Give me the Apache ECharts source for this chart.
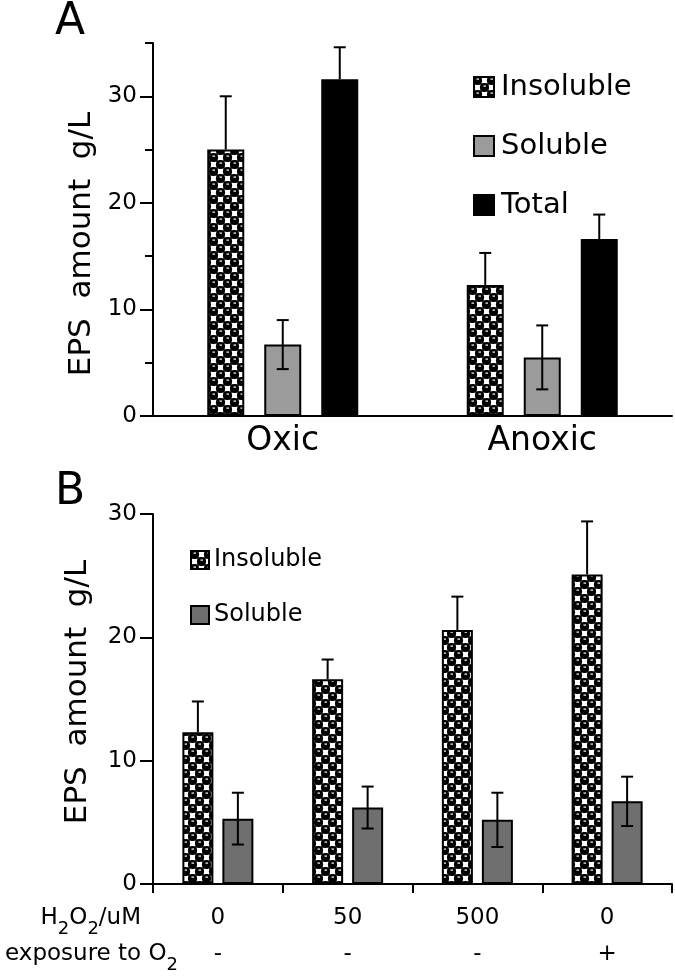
<!DOCTYPE html>
<html>
<head>
<meta charset="utf-8">
<script src="https://cdn.jsdelivr.net/npm/echarts@6/dist/echarts.min.js"></script>
<style>
html,body{margin:0;padding:0;background:#fff;}
#chart{width:675px;height:978px;}
</style>
</head>
<body>
<div id="chart"></div>
<script>
// ---------- data ----------
const catsA = ['Oxic', 'Anoxic'];
const insolA = [25.0, 12.3];
const insolAErr = [5.0, 3.0];
const solA = [6.7, 5.5];
const solAErr = [2.3, 3.0];
const totalA = [31.6, 16.6];
const totalAErr = [3.0, 2.3];
const yTicksA = [0, 10, 20, 30];
const yMinorA = [5, 15, 25, 35];

const h2o2Labels = ['0', '50', '500', '0'];
const o2Labels = ['-', '-', '-', '+'];
const insolB = [12.3, 16.6, 20.6, 25.1];
const insolBErr = [2.5, 1.6, 2.7, 4.3];
const solB = [5.3, 6.2, 5.2, 6.7];
const solBErr = [2.1, 1.7, 2.2, 2.0];
const yTicksB = [0, 10, 20, 30];

// ---------- styles ----------
const FONT = 'DejaVu Sans';
function makePattern() {
  const c = document.createElement('canvas');
  c.width = 14; c.height = 14;
  const g = c.getContext('2d');
  g.fillStyle = '#000'; g.fillRect(0, 0, 14, 14);
  g.fillStyle = '#fff';
  g.fillRect(7.5, 0.5, 6, 6); g.fillRect(0.5, 7.5, 6, 6);
  g.fillStyle = '#000';
  [[3.5, 3.5], [10.5, 10.5], [3.5 + 14, 3.5], [3.5, 3.5 + 14], [10.5 - 14, 10.5], [10.5, 10.5 - 14]].forEach(p => {
    g.beginPath(); g.arc(p[0], p[1], 4.6, 0, Math.PI * 2); g.fill();
  });
  g.fillStyle = '#fff';
  g.fillRect(2.5, 1.5, 2.5, 1.2); g.fillRect(9.5, 8.5, 2.5, 1.2);
  return c;
}
const pattern = { image: makePattern(), repeat: 'repeat' };

const bwA = 37, gapA = 20, bwB = 31, gapB = 9;

function errSeries(xi, yi, means, errs, idx, n, bw, gap, lower) {
  return {
    type: 'custom', xAxisIndex: xi, yAxisIndex: yi, z: 10, silent: true,
    data: means.map((m, i) => [i, m, errs[i]]),
    renderItem: function (params, api) {
      const c = api.value(0), m = api.value(1), e = api.value(2);
      const off = (idx - (n - 1) / 2) * (bw + gap);
      const p = api.coord([c, m]);
      const t = api.coord([c, m + e]);
      const b = api.coord([c, m - e]);
      const x = p[0] + off, half = 6;
      const st = { stroke: '#000', lineWidth: 2 };
      const ch = [
        { type: 'line', shape: { x1: x, y1: t[1], x2: x, y2: lower ? b[1] : p[1] }, style: st },
        { type: 'line', shape: { x1: x - half, y1: t[1], x2: x + half, y2: t[1] }, style: st }
      ];
      if (lower) ch.push({ type: 'line', shape: { x1: x - half, y1: b[1], x2: x + half, y2: b[1] }, style: st });
      return { type: 'group', children: ch };
    }
  };
}

const axisLineStyle = { color: '#000', width: 2 };

const option = {
  backgroundColor: '#fff',
  animation: false,
  textStyle: { fontFamily: FONT, color: '#000' },
  grid: [
    { left: 153, top: 43, width: 519, height: 373 },
    { left: 153, top: 514, width: 519, height: 370 }
  ],
  legend: [
    {
      data: ['Insoluble', 'Soluble', 'Total'],
      orient: 'vertical', left: 468, top: 67, icon: 'rect',
      itemWidth: 20, itemHeight: 20, itemGap: 29,
      textStyle: { fontFamily: FONT, fontSize: 29, lineHeight: 30, color: '#000', padding: [0, 0, 0, 2] },
      selectedMode: false
    },
    {
      data: ['Insoluble B', 'Soluble B'],
      formatter: n => n.replace(' B', ''),
      orient: 'vertical', left: 185, top: 543, icon: 'rect',
      itemWidth: 18, itemHeight: 18, itemGap: 31,
      textStyle: { fontFamily: FONT, fontSize: 24, lineHeight: 24, color: '#000' },
      selectedMode: false
    }
  ],
  xAxis: [
    {
      type: 'category', gridIndex: 0, data: catsA,
      axisLine: { lineStyle: axisLineStyle },
      axisTick: { show: false },
      axisLabel: { fontFamily: FONT, fontSize: 33, color: '#000', margin: 9 }
    },
    {
      type: 'category', gridIndex: 1,
      data: h2o2Labels.map((h, i) => h + '\n' + o2Labels[i]),
      axisLine: { lineStyle: axisLineStyle },
      axisTick: { show: true, length: 9, lineStyle: { color: '#000', width: 2 } },
      axisLabel: { fontFamily: FONT, fontSize: 23, lineHeight: 36, color: '#000', margin: 16, interval: 0 }
    }
  ],
  yAxis: [
    {
      type: 'value', gridIndex: 0, min: 0, max: 35, interval: 5, position: 'left',
      axisLine: { show: true, lineStyle: axisLineStyle },
      axisTick: { show: true, length: 13, customValues: yTicksA, lineStyle: { color: '#000', width: 2 } },
      axisLabel: { fontFamily: FONT, fontSize: 23, color: '#000', margin: 16, customValues: yTicksA },
      splitLine: { show: false }
    },
    {
      type: 'value', gridIndex: 0, min: 0, max: 35, interval: 5, position: 'left', offset: 0,
      axisLine: { show: false },
      axisTick: { show: true, length: 8, customValues: yMinorA, lineStyle: { color: '#000', width: 2 } },
      axisLabel: { show: false },
      splitLine: { show: false }
    },
    {
      type: 'value', gridIndex: 1, min: 0, max: 30, interval: 10, position: 'left',
      axisLine: { show: true, lineStyle: axisLineStyle },
      axisTick: { show: true, length: 13, customValues: yTicksB, lineStyle: { color: '#000', width: 2 } },
      axisLabel: { fontFamily: FONT, fontSize: 23, color: '#000', margin: 16, customValues: yTicksB },
      splitLine: { show: false }
    }
  ],
  graphic: [
    { type: 'text', x: 55, y: 23, style: { text: 'A', fontFamily: FONT, fontSize: 44, fill: '#000', align: 'left', verticalAlign: 'middle' } },
    { type: 'text', x: 55, y: 493, style: { text: 'B', fontFamily: FONT, fontSize: 44, fill: '#000', align: 'left', verticalAlign: 'middle' } },
    { type: 'text', x: 82, y: 244, rotation: Math.PI / 2, style: { text: 'EPS  amount  g/L', fontFamily: FONT, fontSize: 31, fill: '#000', align: 'center', verticalAlign: 'middle' } },
    { type: 'text', x: 78, y: 692, rotation: Math.PI / 2, style: { text: 'EPS  amount  g/L', fontFamily: FONT, fontSize: 31, fill: '#000', align: 'center', verticalAlign: 'middle' } },
    {
      type: 'text', x: 141, y: 918,
      style: {
        text: '{a|H}{s|2}{a|O}{s|2}{a|/uM}', align: 'right', verticalAlign: 'middle',
        rich: {
          a: { fontFamily: FONT, fontSize: 23, lineHeight: 40, fill: '#000', color: '#000' },
          s: { fontFamily: FONT, fontSize: 18, lineHeight: 21, verticalAlign: 'bottom', fill: '#000', color: '#000' }
        }
      }
    },
    {
      type: 'text', x: 178, y: 954,
      style: {
        text: '{a|exposure to O}{s|2}', align: 'right', verticalAlign: 'middle',
        rich: {
          a: { fontFamily: FONT, fontSize: 23, lineHeight: 40, fill: '#000', color: '#000' },
          s: { fontFamily: FONT, fontSize: 18, lineHeight: 21, verticalAlign: 'bottom', fill: '#000', color: '#000' }
        }
      }
    }
  ],
  series: [
    { type: 'bar', name: 'Insoluble', xAxisIndex: 0, yAxisIndex: 0, data: insolA, barWidth: bwA, barGap: (gapA / bwA * 100) + '%',
      itemStyle: { color: pattern, borderColor: '#000', borderWidth: 2 } },
    { type: 'bar', name: 'Soluble', xAxisIndex: 0, yAxisIndex: 0, data: solA, barWidth: bwA, barGap: (gapA / bwA * 100) + '%',
      itemStyle: { color: '#9b9b9b', borderColor: '#000', borderWidth: 2 } },
    { type: 'bar', name: 'Total', xAxisIndex: 0, yAxisIndex: 0, data: totalA, barWidth: bwA, barGap: (gapA / bwA * 100) + '%',
      itemStyle: { color: '#000', borderColor: '#000', borderWidth: 2 } },
    errSeries(0, 0, insolA, insolAErr, 0, 3, bwA, gapA, false),
    errSeries(0, 0, solA, solAErr, 1, 3, bwA, gapA, true),
    errSeries(0, 0, totalA, totalAErr, 2, 3, bwA, gapA, false),

    { type: 'bar', name: 'Insoluble B', xAxisIndex: 1, yAxisIndex: 2, data: insolB, barWidth: bwB, barGap: (gapB / bwB * 100) + '%',
      itemStyle: { color: pattern, borderColor: '#000', borderWidth: 2 } },
    { type: 'bar', name: 'Soluble B', xAxisIndex: 1, yAxisIndex: 2, data: solB, barWidth: bwB, barGap: (gapB / bwB * 100) + '%',
      itemStyle: { color: '#6f6f6f', borderColor: '#000', borderWidth: 2 } },
    errSeries(1, 2, insolB, insolBErr, 0, 2, bwB, gapB, false),
    errSeries(1, 2, solB, solBErr, 1, 2, bwB, gapB, true)
  ]
};

const chart = echarts.init(document.getElementById('chart'), null, { renderer: 'canvas' });
chart.setOption(option);
</script>
</body>
</html>
